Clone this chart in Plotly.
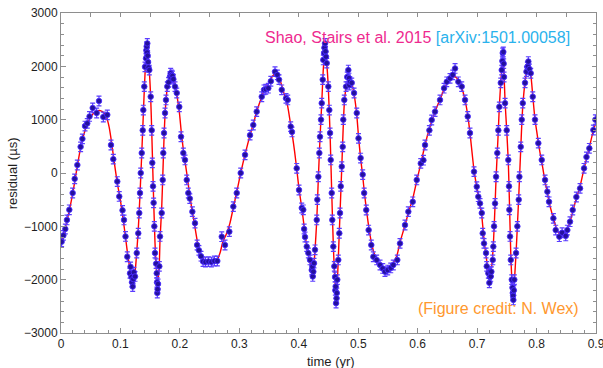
import plotly.graph_objects as go

# Timing-model curve (time in yr, residual in microseconds)
MODEL_T = [
    0.000, 0.007, 0.014, 0.020, 0.027, 0.033, 0.040, 0.047, 0.054, 0.060, 0.066, 0.072, 0.077, 0.081,
    0.085, 0.090, 0.095, 0.0993, 0.1035, 0.1077, 0.1115, 0.1161, 0.1206, 0.1245, 0.1274, 0.1300,
    0.1329, 0.1358, 0.1385, 0.1413, 0.1442, 0.1460, 0.1486, 0.1509, 0.1526, 0.1553, 0.1581, 0.1610,
    0.1630, 0.1654, 0.1666, 0.1694, 0.1711, 0.1733, 0.1750, 0.1766, 0.1788, 0.1834, 0.1862, 0.1918,
    0.1947, 0.1990, 0.2025, 0.2060, 0.2115, 0.2167, 0.2210, 0.2254, 0.2300, 0.2360, 0.2450, 0.2550,
    0.2630, 0.2680, 0.2720, 0.2780, 0.2840, 0.2899, 0.2956, 0.3023, 0.3096, 0.3180, 0.3235, 0.3292,
    0.3377, 0.3415, 0.3488, 0.3560, 0.3620, 0.3668, 0.3713, 0.3760, 0.3814, 0.3864, 0.3890, 0.3930,
    0.3965, 0.4004, 0.4050, 0.4090, 0.4130, 0.4170, 0.4210, 0.4235, 0.4256, 0.4273, 0.4302, 0.4329,
    0.4357, 0.4386, 0.4413, 0.4442, 0.4470, 0.4497, 0.4526, 0.4554, 0.4581, 0.4600, 0.4627, 0.4648,
    0.4665, 0.4694, 0.4723, 0.4749, 0.4766, 0.4795, 0.4834, 0.4862, 0.4891, 0.4930, 0.4975, 0.5005,
    0.5040, 0.5075, 0.5105, 0.5140, 0.5180, 0.5230, 0.5290, 0.5350, 0.5430, 0.5500, 0.5580, 0.5650,
    0.5703, 0.5787, 0.5843, 0.5917, 0.5984, 0.6052, 0.6124, 0.6197, 0.6292, 0.6376, 0.6444, 0.6544,
    0.6600, 0.6650, 0.6700, 0.6741, 0.6797, 0.6842, 0.6880, 0.6948, 0.6994, 0.7030, 0.7078, 0.7116,
    0.7150, 0.7189, 0.7215, 0.7245, 0.7273, 0.7302, 0.7319, 0.7340, 0.7357, 0.7374, 0.7398, 0.7414,
    0.7436, 0.7453, 0.7470, 0.7498, 0.7525, 0.7545, 0.7566, 0.7583, 0.7610, 0.7626, 0.7655, 0.7677,
    0.7700, 0.7734, 0.7751, 0.7768, 0.7806, 0.7845, 0.7862, 0.7902, 0.7936, 0.7974, 0.8003, 0.8047,
    0.8104, 0.8143, 0.8182, 0.8210, 0.8283, 0.8340, 0.8410, 0.8480, 0.8530, 0.8580, 0.8650, 0.8732,
    0.8799, 0.8888, 0.8956, 0.9000,
]
MODEL_RES = [
    -1300, -1040, -700, -370, 100, 470, 780, 990, 1110, 1160, 1170, 1130, 1030, 860,
    580, 170, -210, -460, -790, -1130, -1470, -1800, -1980, -1860, -1480, -1060,
    -400, 350, 1100, 1850, 2250, 2200, 1900, 1400, 800, -300, -1300, -1900,
    -2050, -1700, -1250, -650, -100, 650, 1100, 1350, 1600, 1800, 1830, 1680,
    1480, 1150, 750, 420, 0, -430, -730, -1020, -1320, -1560, -1660, -1670,
    -1620, -1480, -1300, -1150, -950, -650, -360, 0, 350, 710, 920, 1150,
    1430, 1540, 1680, 1820, 1870, 1800, 1640, 1460, 1250, 900, 720, 400,
    80, -300, -650, -1000, -1350, -1580, -1760, -1800, -1700, -1450, -900, -100,
    650, 1300, 1950, 2300, 2050, 1600, 750, -350, -1350, -1850, -2300, -2050,
    -1600, -750, 100, 900, 1300, 1600, 1750, 1740, 1680, 1480, 1100, 680,
    280, -50, -380, -700, -1030, -1350, -1580, -1720, -1800, -1790, -1700, -1550,
    -1300, -980, -750, -480, -150, 170, 530, 830, 1150, 1380, 1570, 1760,
    1810, 1790, 1700, 1600, 1370, 1080, 750, 50, -260, -480, -800, -1250,
    -1550, -1850, -1920, -1750, -1350, -600, -100, 400, 800, 1250, 1700, 1950,
    2180, 1850, 1350, 800, 200, -600, -1500, -1950, -2250, -2050, -1500, -1000,
    -450, 450, 900, 1250, 1700, 1950, 1980, 1850, 1450, 1000, 780, 450,
    100, -160, -360, -540, -850, -1060, -1170, -1150, -1020, -850, -550, -250,
    80, 480, 800, 950,
]

# Measured timing residuals
OBS_T = [
    0.001, 0.004, 0.0073, 0.010, 0.014, 0.0196, 0.023, 0.0275, 0.033, 0.036, 0.0404, 0.0442, 0.048,
    0.0533, 0.060, 0.0639, 0.0712, 0.0779, 0.0841, 0.088, 0.0947, 0.098,
    0.1035, 0.106, 0.1085, 0.1115, 0.1161, 0.1170, 0.1185, 0.1195, 0.1206, 0.1215, 0.1225, 0.1245,
    0.1274, 0.1300, 0.1317, 0.1329, 0.1341, 0.1358, 0.1375, 0.1385, 0.1401, 0.1413, 0.1430, 0.1436,
    0.1442, 0.1447, 0.1452, 0.1458, 0.1465, 0.1472, 0.1486, 0.1509, 0.1526, 0.1536, 0.1548, 0.1558,
    0.1570, 0.1581, 0.1600, 0.1610, 0.1615, 0.1620, 0.1625, 0.1632, 0.1654, 0.1666, 0.1694, 0.1711,
    0.1721, 0.1733, 0.1750, 0.1766, 0.1788, 0.1810, 0.1834, 0.1845, 0.1855, 0.1862, 0.1875, 0.1890,
    0.1918, 0.1947, 0.1990, 0.2019, 0.2058, 0.2086, 0.2115, 0.2142, 0.2167, 0.2210, 0.2254,
    0.2290, 0.2320, 0.2355, 0.2390, 0.2430, 0.2480, 0.2530, 0.2580, 0.2630, 0.2704, 0.2759, 0.2832,
    0.2899, 0.2956, 0.3023, 0.3096, 0.3180,
    0.3235, 0.3292, 0.3377, 0.3415, 0.3445, 0.3488, 0.3530, 0.3600, 0.3639, 0.3668, 0.3713, 0.3785,
    0.3814, 0.3864, 0.3886, 0.3965, 0.4004,
    0.4050, 0.4076, 0.4090, 0.4105, 0.4134, 0.4161, 0.4189, 0.4218, 0.4228, 0.4235, 0.4245, 0.4256,
    0.4273, 0.4302, 0.4312, 0.4329, 0.4346, 0.4357, 0.4374, 0.4386, 0.4403, 0.4413, 0.4425, 0.4432,
    0.4442, 0.4450, 0.4458, 0.4470, 0.4497, 0.4514, 0.4526, 0.4537, 0.4554, 0.4564, 0.4581, 0.4598,
    0.4610, 0.4615, 0.4621, 0.4627, 0.4635, 0.4640, 0.4648, 0.4665, 0.4682, 0.4694, 0.4706, 0.4723,
    0.4739, 0.4749, 0.4766, 0.4795, 0.4815, 0.4834, 0.4845, 0.4850, 0.4862, 0.4891, 0.4930, 0.4975,
    0.5005,
    0.5040, 0.5075, 0.5100, 0.5135, 0.5175, 0.5220, 0.5254, 0.5310, 0.5367, 0.5412, 0.5450, 0.5496,
    0.5547, 0.5590, 0.5658, 0.5703, 0.5787, 0.5843, 0.5917, 0.5984, 0.6052, 0.6097, 0.6124, 0.6197,
    0.6236, 0.6292, 0.6376, 0.6444, 0.6489, 0.6544, 0.6590, 0.6629, 0.6684, 0.6741, 0.6797, 0.6842,
    0.6880, 0.6948, 0.6994, 0.7020,
    0.7049, 0.7078, 0.7094, 0.7116, 0.7150, 0.7162, 0.7189, 0.7206, 0.7215, 0.7222, 0.7229, 0.7240,
    0.7263, 0.7273, 0.7285, 0.7302, 0.7319, 0.7340, 0.7357, 0.7374, 0.7398, 0.7414, 0.7425, 0.7431,
    0.7441, 0.7447, 0.7453, 0.7470, 0.7498, 0.7525, 0.7537, 0.7542, 0.7554, 0.7566, 0.7583, 0.7595,
    0.7600, 0.7605, 0.7610, 0.7618, 0.7626, 0.7655, 0.7677, 0.7700, 0.7711, 0.7734, 0.7751, 0.7768,
    0.7806, 0.7830, 0.7845, 0.7855, 0.7862, 0.7880, 0.7902, 0.7936, 0.7974, 0.8030, 0.8087, 0.8143,
    0.8182, 0.8210, 0.8283, 0.8322, 0.8383, 0.8430, 0.8491, 0.8518, 0.8563, 0.8608, 0.8670, 0.8732,
    0.8799, 0.8840, 0.8888, 0.8956, 0.8990,
]
OBS_RES = [
    -1290, -1170, -1050, -880, -690, -375, -110, 150, 490, 640, 880, 930, 1060,
    1220, 1125, 1350, 1050, 1090, 525, 260, -160, -440,
    -700, -880, -1190, -1570, -1880, -1760, -1950, -2050, -2130, -1990, -1860, -1940,
    -1500, -1130, -750, -375, 0, 375, 800, 1180, 1620, 1990, 2150, 2300,
    2370, 2260, 2430, 2200, 2080, 1980, 1930, 1430, 800, 190, -250, -560,
    -1000, -1500, -1700, -1880, -2050, -2250, -2180, -2080, -1750, -1190, -750, -130,
    375, 750, 1125, 1370, 1620, 1700, 1810, 1870, 1790, 1840, 1820, 1760,
    1620, 1500, 1240, 680, 375, 245, -130, -375, -480, -725, -940,
    -1350, -1450, -1560, -1660, -1670, -1660, -1670, -1650, -1650, -1194, -1350, -1100,
    -630, -375, 0, 340, 710,
    900, 1150, 1430, 1560, 1570, 1590, 1720, 1900, 1840, 1750, 1560, 1400,
    1370, 870, 770, 88, -319,
    -656, -690, -1050, -1200, -1380, -1500, -1630, -1820, -1760, -1940, -1850, -1690,
    -1440, -880, -500, -70, 375, 680, 1000, 1310, 1750, 2120, 2250, 2350,
    2430, 2280, 2180, 2060, 1620, 1180, 750, 245, -375, -880, -1380, -1750,
    -1950, -2200, -2130, -2440, -2350, -2250, -2000, -1630, -1130, -750, -250, 120,
    490, 1000, 1370, 1620, 1800, 1930, 1780, 1650, 1710, 1690, 1500, 1125,
    650,
    280, -30, -375, -694, -1070, -1350, -1570, -1630, -1725, -1790, -1850, -1820,
    -1780, -1725, -1630, -1320, -975, -725, -540, -130, 180, 240, 525, 800,
    994, 1150, 1370, 1590, 1710, 1775, 1840, 1960, 1710, 1620, 1370, 1060,
    750, 25, -256, -444,
    -570, -750, -1130, -1320, -1500, -1750, -1880, -2060, -1950, -1850, -1940, -1850,
    -1630, -1380, -1000, -570, -70, 375, 800, 1240, 1690, 1930, 2100, 2250,
    2270, 2050, 1800, 1310, 800, 245, -250, -690, -1190, -1630, -2000, -2150,
    -2250, -2300, -2380, -2200, -2000, -1500, -1000, -500, -70, 490, 1000, 1310,
    1690, 1900, 1990, 2000, 2090, 1950, 1870, 1430, 1000, 560, 245, -130,
    -350, -540, -850, -1070, -1194, -1120, -1180, -1070, -913, -694, -450, -288,
    88, 300, 463, 806, 1000,
]
OBS_ERR = 90  # microseconds, 1-sigma

X_RANGE = [0, 0.9]
Y_RANGE = [-3000, 3000]
X_TICKS = [0, 0.1, 0.2, 0.3, 0.4, 0.5, 0.6, 0.7, 0.8, 0.9]
X_TICK_TEXT = ["0", "0.1", "0.2", "0.3", "0.4", "0.5", "0.6", "0.7", "0.8", "0.9"]

FONT = "Liberation Sans, Arial, Helvetica, sans-serif"
FRAME = "#8e8e8e"
TEXT = "#1e1e1e"

fig = go.Figure()

fig.add_trace(go.Scatter(
    x=MODEL_T, y=MODEL_RES, mode="lines",
    line=dict(color="#ff0000", width=1.4, shape="spline", smoothing=0.5),
    hoverinfo="skip", showlegend=False,
))

fig.add_trace(go.Scatter(
    x=OBS_T, y=OBS_RES, mode="markers",
    marker=dict(size=5.5, color="#24109e", line=dict(color="#4a2cff", width=0.9)),
    error_y=dict(type="constant", value=OBS_ERR, color="#5a3cff", thickness=1.2, width=2.5),
    hoverinfo="skip", showlegend=False,
))

# empty trace so the top/right tick axes are instantiated
fig.add_trace(go.Scatter(x=[], y=[], xaxis="x2", yaxis="y2", showlegend=False, hoverinfo="skip"))

fig.update_layout(
    width=603, height=368,
    margin=dict(l=61, r=7, t=13, b=35),
    paper_bgcolor="white", plot_bgcolor="white",
    font=dict(family=FONT, size=12, color=TEXT),
    xaxis=dict(
        range=X_RANGE, tickmode="array", tickvals=X_TICKS, ticktext=X_TICK_TEXT,
        ticklabeloverflow="allow", automargin=False,
        showgrid=False, zeroline=False,
        showline=True, linecolor=FRAME, linewidth=1,
        ticks="inside", ticklen=5, tickwidth=1, tickcolor=FRAME,
        minor=dict(dtick=0.02, tick0=0, ticks="inside", ticklen=3, tickcolor=FRAME, showgrid=False),
        tickfont=dict(size=12, color=TEXT),
    ),
    yaxis=dict(
        range=Y_RANGE, dtick=1000, tick0=0, showgrid=False, zeroline=False,
        automargin=False,
        showline=True, linecolor=FRAME, linewidth=1,
        ticks="inside", ticklen=5, tickwidth=1, tickcolor=FRAME,
        minor=dict(dtick=200, tick0=0, ticks="inside", ticklen=3, tickcolor=FRAME, showgrid=False),
        tickfont=dict(size=12, color=TEXT),
    ),
    xaxis2=dict(
        range=X_RANGE, overlaying="x", side="top", dtick=0.05, tick0=0,
        showticklabels=False, showgrid=False, zeroline=False, automargin=False,
        showline=True, linecolor=FRAME, linewidth=1,
        ticks="inside", ticklen=4, tickwidth=1, tickcolor=FRAME,
    ),
    yaxis2=dict(
        range=Y_RANGE, overlaying="y", side="right", dtick=1000, tick0=0,
        showticklabels=False, showgrid=False, zeroline=False, automargin=False,
        showline=True, linecolor=FRAME, linewidth=1,
        ticks="inside", ticklen=4, tickwidth=1, tickcolor=FRAME,
        minor=dict(dtick=200, tick0=0, ticks="inside", ticklen=3, tickcolor=FRAME, showgrid=False),
    ),
)

annotations = [
    dict(text="time (yr)", x=0.504, y=-0.088, xref="paper", yref="paper",
         xanchor="center", yanchor="middle", showarrow=False,
         font=dict(family=FONT, size=13, color=TEXT)),
    dict(text="residual (\u00b5s)", x=-0.091, y=0.5, xref="paper", yref="paper",
         xanchor="center", yanchor="middle", textangle=-90, showarrow=False,
         font=dict(family=FONT, size=13, color=TEXT)),
    dict(text="<span style='color:#ee2a8f'>Shao, Stairs et al. 2015</span> "
              "<span style='color:#2ab2ec'>[arXiv:1501.00058]</span>",
         x=0.377, y=0.922, xref="paper", yref="paper",
         xanchor="left", yanchor="middle", showarrow=False,
         font=dict(family=FONT, size=16)),
    dict(text="(Figure credit: N. Wex)", x=0.6636, y=0.078, xref="paper", yref="paper",
         xanchor="left", yanchor="middle", showarrow=False,
         font=dict(family=FONT, size=16, color="#ff982e")),
]
fig.update_layout(annotations=annotations)

fig.write_html("out.html")
